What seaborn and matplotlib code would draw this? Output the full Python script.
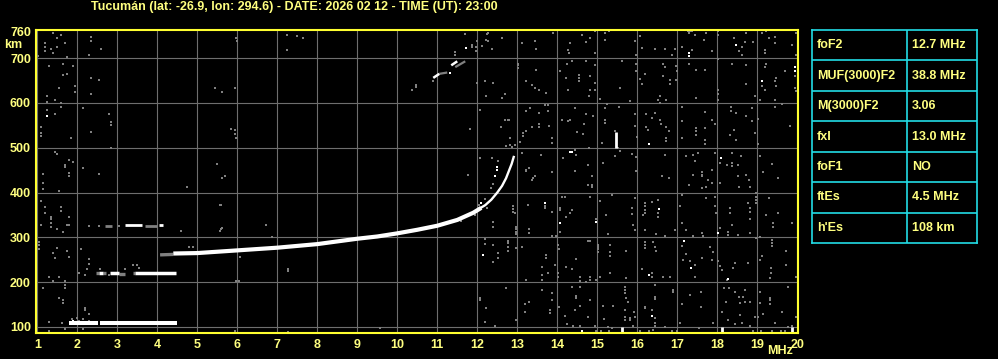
import matplotlib
matplotlib.use("Agg")
import matplotlib.pyplot as plt
import pandas as pd
import seaborn as sns

# ---------------- data ----------------
TITLE = "Tucumán (lat: -26.9, lon: 294.6) - DATE: 2026 02 12 - TIME (UT): 23:00"
freq_ticks = list(range(1, 21))
grid_heights = [100, 200, 300, 400, 500, 600, 700]
height_ticks = [100, 200, 300, 400, 500, 600, 700, 760]

table_labels = ["foF2", "MUF(3000)F2", "M(3000)F2", "fxI", "foF1", "ftEs", "h'Es"]
table_values = ["12.7 MHz", "38.8 MHz", "3.06", "13.0 MHz", "NO", "4.5 MHz", "108 km"]

# F2 trace (white): lower, thick part and upper, thin cusp
f2_freq = [4.40, 5.0, 5.5, 6.0, 6.5, 7.0, 7.5, 8.0, 8.5, 9.0, 9.5, 10.0, 10.5, 11.0, 11.5,
           11.9, 12.1]
f2_height = [264, 265, 268, 271, 274, 277, 281, 285, 291, 297, 302, 309, 317, 326, 339,
             355, 366]
cusp_freq = [12.05, 12.2, 12.35, 12.5, 12.62, 12.72, 12.79, 12.86, 12.92]
cusp_height = [364, 372, 384, 400, 415, 432, 448, 464, 482]

# sporadic-E echoes: (segment, freq, height)
es1_segments = [("a", 1.78, 110), ("a", 2.52, 110), ("b", 2.57, 110), ("b", 4.50, 110)]
es2_white = [("a", 2.53, 220), ("a", 2.65, 220), ("b", 2.82, 220), ("b", 3.05, 220),
             ("c", 3.44, 220), ("c", 4.47, 220)]
es2_gray = [("a", 2.47, 221), ("a", 2.53, 221), ("b", 2.65, 220), ("b", 2.72, 220),
            ("c", 3.05, 219), ("c", 3.19, 219), ("d", 3.38, 221), ("d", 3.44, 221),
            ("e", 4.07, 261), ("e", 4.40, 262)]
es3_white = [("a", 3.19, 327), ("a", 3.61, 327), ("b", 4.05, 327), ("b", 4.15, 327)]
es3_gray = [("a", 2.69, 326), ("a", 2.86, 326), ("b", 3.69, 326), ("b", 3.98, 326)]

# second hop F trace
hop2_white = [("a", 10.90, 656), ("a", 11.05, 665), ("b", 11.35, 684), ("b", 11.50, 693)]
hop2_gray = [("a", 11.45, 680), ("a", 11.70, 693), ("b", 11.05, 665), ("b", 11.25, 668)]

# short vertical bright echoes (freq, bottom, top)
bar_freq = [15.46, 15.63, 18.13, 19.88]
bar_bottom = [500, 87, 87, 87]
bar_top = [536, 100, 100, 100]

# isolated bright echoes
bright_dots = [(12.44, 436), (12.49, 450), (12.49, 457), (11.32, 666), (11.72, 722),
               (14.32, 491), (14.38, 491), (17.29, 711), (17.29, 705), (18.48, 730),
               (19.13, 648), (19.94, 680), (19.94, 671), (16.29, 508), (18.09, 477),
               (13.69, 376), (14.08, 331), (14.98, 335), (12.15, 261), (14.63, 90),
               (16.54, 363), (18.03, 310), (17.18, 292), (17.34, 231), (16.29, 217),
               (18.28, 207), (16.38, 124), (1.25, 572), (1.89, 114), (11.70, 345),
               (11.85, 352), (12.10, 376)]

# gray noise echoes
gray_dots = [
    # 1-6 MHz upper
    (1.38, 756), (1.59, 752), (1.48, 744), (1.69, 734), (1.34, 721), (1.38, 712), (1.49, 725),
    (1.19, 733), (1.19, 724), (1.19, 716), (1.01, 704), (1.74, 703), (2.34, 747), (2.34, 738),
    (2.59, 720), (2.28, 708), (1.30, 683), (1.63, 688), (1.88, 683), (1.63, 663), (1.74, 665),
    (2.34, 656), (2.53, 652), (1.53, 633), (1.94, 637), (1.94, 624), (1.24, 616), (1.44, 607),
    (1.59, 600), (1.59, 592), (1.24, 602), (2.34, 619), (2.13, 589), (1.24, 585), (1.44, 576),
    (2.78, 575), (2.84, 558), (2.84, 551), (1.09, 546), (1.09, 532), (1.09, 526), (1.84, 522),
    (2.34, 535), (1.44, 491), (1.49, 486), (1.78, 473), (1.88, 468), (1.69, 462), (1.69, 456),
    (1.78, 444), (1.78, 438), (1.13, 442), (2.13, 455), (2.53, 442), (2.84, 500), (1.13, 421),
    (1.13, 408), (1.53, 404), (1.09, 382), (1.19, 368), (1.19, 355), (1.59, 368), (1.59, 360),
    (1.34, 346), (1.34, 340), (1.78, 346), (1.34, 332), (1.09, 328), (1.73, 328), (5.45, 634),
    (5.63, 625), (5.95, 634), (5.84, 541), (5.95, 531), (5.49, 464), (5.69, 438), (5.63, 433),
    (4.74, 413), (5.59, 373), (5.98, 744), (6.00, 739), (7.24, 752), (7.24, 718), (7.49, 750),
    (7.64, 744), (5.94, 540), (5.97, 522),
    # 1-6 MHz lower
    (1.18, 355), (1.33, 324), (1.48, 319), (1.63, 311), (1.78, 328), (1.08, 328), (1.03, 290),
    (1.03, 283), (1.03, 275), (1.38, 266), (1.48, 276), (1.73, 270), (1.79, 257), (1.44, 253),
    (2.09, 273), (2.28, 251), (2.30, 240), (2.23, 229), (2.04, 221), (2.19, 216), (1.30, 212),
    (1.38, 203), (1.55, 211), (1.69, 203), (1.68, 194), (1.68, 186), (1.13, 186), (1.53, 164),
    (1.63, 160), (1.63, 153), (2.19, 142), (2.19, 138), (2.28, 129), (2.00, 119), (2.13, 117),
    (1.30, 112), (1.61, 110), (1.69, 95), (2.13, 95), (1.30, 91), (1.30, 87), (4.80, 279),
    (4.90, 279), (4.59, 315), (5.57, 372), (5.63, 320), (5.57, 315), (5.97, 203), (6.05, 203),
    (5.94, 90), (6.08, 257), (2.57, 229), (3.19, 229), (3.40, 238), (3.48, 238), (3.53, 231),
    (2.78, 216), (2.28, 325), (2.55, 326), (3.03, 326), (1.86, 117), (2.05, 113), (2.30, 113),
    (5.60, 318), (6.73, 328), (6.88, 301), (7.28, 229), (7.28, 224), (7.28, 89), (9.57, 97),
    # 10-12 MHz
    (10.48, 636), (10.36, 630), (11.98, 726), (11.99, 644), (11.82, 543), (11.78, 439),
    (12.07, 477), (12.07, 584), (10.48, 641), (10.90, 650), (11.45, 706), (11.45, 713),
    (11.97, 717), (11.69, 753), (11.88, 730), (11.88, 724), (11.99, 739), (12.24, 753),
    (12.28, 738), (12.61, 744), (12.20, 385), (12.35, 410), (12.05, 372), (12.55, 405),
    (11.60, 336), (11.95, 349), (12.25, 366), (12.40, 420),
    # 12-16 MHz upper
    (12.28, 756), (12.23, 741), (12.63, 744), (12.13, 727), (12.36, 721), (13.13, 734),
    (13.44, 738), (13.48, 721), (13.90, 756), (14.28, 719), (14.33, 734), (14.30, 712),
    (14.63, 752), (14.73, 736), (14.83, 744), (14.94, 712), (14.94, 761), (15.19, 756),
    (15.19, 741), (15.30, 761), (15.94, 739), (15.98, 708), (13.03, 686), (13.48, 674),
    (14.07, 671), (14.23, 656), (14.25, 688), (14.38, 693), (14.54, 663), (14.54, 656),
    (14.54, 649), (14.73, 693), (14.83, 660), (14.94, 684), (14.94, 645), (15.61, 693),
    (15.98, 686), (15.98, 671), (12.19, 648), (12.40, 645), (12.23, 615), (12.69, 620),
    (12.63, 611), (13.23, 648), (13.38, 641), (13.44, 634), (13.55, 628), (13.73, 622),
    (14.28, 628), (14.82, 628), (14.94, 630), (14.79, 615), (15.58, 634), (15.08, 609),
    (15.83, 605), (12.07, 585), (12.69, 563), (12.80, 563), (12.59, 546), (13.23, 583),
    (13.32, 589), (13.69, 595), (13.78, 595), (13.55, 578), (13.78, 581), (13.55, 553),
    (13.36, 546), (13.23, 537), (13.15, 527), (13.55, 546), (13.80, 548), (14.13, 563),
    (14.28, 559), (14.33, 563), (14.44, 588), (14.73, 575), (14.90, 570), (14.67, 552),
    (14.50, 535), (14.65, 531), (15.19, 589), (15.25, 598), (15.55, 590), (15.19, 555),
    (15.19, 563), (15.94, 575), (15.94, 548), (16.00, 523), (12.83, 522), (12.73, 503),
    (12.83, 507), (12.94, 507), (13.07, 514), (13.86, 522), (13.88, 511), (13.13, 488),
    (13.59, 485), (13.22, 449), (13.30, 455), (13.44, 436), (13.36, 427), (13.88, 447),
    (14.15, 477), (14.44, 496), (14.48, 485), (14.44, 449), (14.80, 500), (14.78, 461),
    (14.88, 436), (15.15, 466), (15.13, 510), (15.57, 493), (15.44, 481), (15.88, 486),
    (15.97, 479), (15.98, 449), (12.36, 477), (12.53, 470), (15.52, 500), (15.44, 537),
    # 12-16 MHz lower
    (12.90, 369), (12.90, 363), (12.90, 357), (12.94, 355), (13.28, 372), (13.69, 369),
    (13.69, 365), (13.88, 357), (14.08, 365), (14.08, 361), (14.11, 391), (14.19, 391),
    (14.32, 355), (14.38, 361), (14.22, 346), (14.78, 417), (14.88, 417), (14.88, 413),
    (14.82, 391), (14.98, 342), (15.07, 382), (15.23, 350), (15.38, 395), (15.86, 365),
    (15.86, 352), (15.94, 387), (15.90, 328), (15.94, 316), (15.28, 308), (14.82, 293),
    (13.98, 303), (14.07, 313), (13.88, 302), (12.40, 335), (12.40, 324), (12.97, 324),
    (12.97, 318), (12.97, 313), (12.97, 308), (13.30, 318), (13.30, 310), (12.19, 296),
    (12.40, 283), (12.53, 266), (12.53, 253), (12.40, 244), (12.78, 292), (12.78, 287),
    (12.78, 279), (13.13, 279), (12.97, 276), (13.73, 261), (13.73, 255), (14.03, 283),
    (14.05, 273), (14.48, 251), (14.23, 233), (14.38, 229), (13.63, 233), (13.78, 221),
    (13.63, 216), (13.63, 205), (13.23, 206), (13.94, 238), (14.03, 221), (14.03, 212),
    (14.78, 293), (15.03, 279), (15.03, 273), (15.03, 268), (15.03, 283), (15.33, 283),
    (15.33, 268), (15.33, 258), (15.33, 220), (15.73, 270), (15.73, 209), (14.58, 212),
    (14.58, 203), (14.58, 190), (14.83, 212), (14.83, 205), (14.72, 201), (14.36, 190),
    (14.48, 169), (14.48, 164), (14.57, 147), (14.82, 160), (14.98, 205), (15.07, 212),
    (13.63, 183), (13.86, 175), (13.88, 160), (13.83, 138), (13.83, 132), (13.19, 151),
    (13.30, 156), (13.19, 134), (12.73, 186), (12.22, 142), (12.19, 112), (12.44, 102),
    (12.97, 116), (14.05, 145), (14.19, 124), (14.25, 107), (14.44, 138), (14.40, 102),
    (14.57, 102), (14.78, 123), (14.94, 102), (14.98, 92), (15.15, 147), (15.40, 147),
    (15.17, 117), (15.28, 101), (15.38, 97), (15.69, 190), (15.69, 183), (15.69, 175),
    (15.73, 164), (15.78, 156), (15.69, 138), (15.69, 123), (15.69, 116), (15.82, 119),
    (15.82, 116), (15.90, 102), (15.94, 123), (15.92, 134), (12.07, 164), (12.07, 160),
    (12.19, 285), (12.78, 270), (13.27, 372), (13.40, 433), (13.23, 450), (12.86, 502),
    (12.82, 521), (13.15, 532), (12.78, 562), (13.03, 685), (13.03, 679),
    # 16-20 MHz upper
    (16.07, 749), (16.13, 723), (16.44, 721), (16.69, 721), (16.88, 706), (16.94, 721),
    (17.13, 725), (17.28, 760), (17.33, 760), (17.38, 760), (17.30, 756), (17.44, 752),
    (17.38, 719), (17.68, 741), (17.73, 756), (17.88, 717), (18.03, 760), (18.03, 752),
    (18.43, 745), (18.55, 717), (18.63, 724), (18.69, 736), (18.90, 736), (18.73, 756),
    (18.61, 708), (19.13, 756), (19.23, 760), (19.30, 744), (19.44, 747), (19.44, 734),
    (19.19, 719), (19.19, 712), (19.88, 730), (19.97, 756), (19.98, 708), (16.65, 687),
    (16.69, 680), (16.98, 682), (17.00, 672), (17.30, 687), (17.48, 674), (17.69, 674),
    (16.19, 665), (16.07, 654), (16.13, 642), (16.65, 660), (16.83, 652), (16.83, 642),
    (16.97, 652), (18.03, 699), (18.38, 687), (18.73, 684), (18.73, 642), (18.94, 615),
    (18.03, 630), (18.03, 619), (18.03, 607), (17.48, 611), (19.23, 687), (19.19, 680),
    (19.47, 656), (19.44, 648), (19.48, 637), (19.19, 630), (19.13, 639), (19.69, 671),
    (19.94, 660), (19.94, 634), (19.98, 626), (19.44, 607), (19.08, 607), (16.58, 615),
    (16.53, 607), (16.73, 607), (16.58, 600), (16.23, 575), (16.38, 566), (16.57, 563),
    (16.59, 552), (16.73, 546), (16.23, 546), (16.28, 540), (16.44, 578), (16.80, 537),
    (16.73, 522), (16.73, 516), (17.13, 592), (17.13, 559), (17.13, 522), (17.48, 544),
    (17.48, 537), (17.48, 529), (17.69, 580), (17.69, 544), (17.69, 518), (17.69, 508),
    (17.88, 563), (17.94, 552), (18.34, 592), (18.34, 583), (18.48, 578), (18.73, 570),
    (18.88, 589), (18.88, 559), (19.03, 565), (18.94, 533), (18.42, 540), (18.33, 529),
    (18.48, 518), (19.03, 508), (19.83, 548), (19.63, 598), (19.44, 592), (16.69, 484),
    (16.63, 436), (16.80, 433), (17.23, 481), (17.40, 485), (17.44, 470), (17.53, 488),
    (17.40, 440), (17.63, 447), (17.63, 440), (17.63, 436), (17.88, 451), (17.94, 488),
    (17.78, 429), (18.07, 466), (18.25, 461), (18.38, 466), (18.38, 460), (18.38, 488),
    (18.53, 462), (18.59, 481), (18.53, 436), (18.72, 440), (18.80, 429), (19.08, 481),
    (19.15, 447), (19.38, 464), (19.53, 433),
    # 16-20 MHz lower
    (17.30, 417), (17.61, 410), (17.73, 413), (17.86, 421), (18.08, 422), (18.54, 413),
    (18.82, 413), (16.19, 376), (16.19, 369), (16.19, 361), (16.19, 354), (16.36, 378),
    (16.53, 384), (16.53, 354), (16.53, 346), (16.15, 350), (17.08, 369), (17.11, 395),
    (17.73, 387), (17.94, 391), (17.94, 369), (18.36, 328), (18.32, 365), (18.32, 354),
    (17.98, 355), (18.78, 376), (18.98, 398), (18.98, 391), (18.98, 384), (18.98, 376),
    (18.82, 365), (18.82, 357), (18.82, 342), (18.82, 310), (19.30, 387), (19.23, 350),
    (19.53, 355), (19.40, 331), (19.40, 324), (19.86, 333), (16.19, 316), (16.48, 308),
    (16.69, 302), (16.94, 316), (17.11, 331), (17.23, 316), (17.40, 302), (17.61, 310),
    (17.65, 302), (18.07, 320), (18.28, 313), (18.28, 305), (18.53, 305), (18.98, 298),
    (19.08, 300), (19.36, 294), (19.36, 287), (19.36, 281), (16.19, 290), (16.19, 283),
    (16.19, 276), (16.40, 290), (16.48, 270), (16.44, 279), (17.13, 281), (17.23, 263),
    (17.15, 250), (17.32, 248), (17.44, 238), (17.63, 253), (17.82, 279), (17.90, 268),
    (17.88, 250), (18.03, 248), (18.07, 236), (18.11, 227), (18.40, 231), (18.44, 242),
    (18.78, 242), (19.07, 250), (19.13, 258), (19.34, 231), (19.34, 221), (19.33, 209),
    (19.73, 270), (19.73, 238), (19.98, 212), (16.11, 229), (16.36, 212), (16.36, 221),
    (16.65, 212), (16.82, 212), (16.44, 194), (16.44, 168), (16.44, 162), (16.90, 183),
    (16.90, 177), (17.13, 151), (17.32, 171), (17.59, 177), (17.59, 144), (17.44, 211),
    (18.18, 186), (18.30, 186), (18.44, 177), (18.55, 168), (18.65, 166), (18.69, 156),
    (18.57, 154), (18.23, 156), (18.25, 205), (18.69, 183), (18.82, 156), (19.07, 177),
    (19.07, 153), (19.33, 164), (19.33, 160), (19.33, 151), (19.63, 134), (19.78, 190),
    (16.19, 145), (16.19, 142), (16.36, 138), (16.44, 119), (16.44, 108), (16.44, 102),
    (16.40, 93), (16.69, 101), (16.86, 92), (17.07, 110), (17.55, 97), (17.90, 108),
    (18.11, 134), (18.28, 116), (18.44, 107), (18.57, 127), (18.61, 110), (18.82, 102),
    (18.94, 122), (19.03, 122), (19.15, 129), (19.44, 108), (19.78, 101), (19.88, 102),
    (19.98, 123), (19.69, 90), (19.36, 90), (16.07, 90), (16.30, 90), (17.00, 91),
    (18.90, 90), (19.10, 91), (19.60, 91), (15.10, 90), (15.30, 91),
]

# ---------------- styling constants ----------------
TXT = "#ffff80"
FRAME = "#ffff30"
CYAN = "#22dde6"
GRID = "#6e6e6e"
NOISE = "#808080"
FONT = "Liberation Sans"

W, H = 998, 359
fig = plt.figure(figsize=(W / 100, H / 100), dpi=100, facecolor="black")
sns.set_style("dark")
plt.rcParams["font.family"] = [FONT, "DejaVu Sans"]

ax = fig.add_axes([36 / W, (H - 333) / H, (798 - 36) / W, (333 - 29.5) / H])
ax.set_facecolor("black")

for f in freq_ticks:
    ax.axvline(f, color=GRID, lw=0.8, zorder=1)
for h in grid_heights:
    ax.axhline(h, color=GRID, lw=0.8, zorder=1)

# noise
gray_df = pd.DataFrame(gray_dots, columns=["freq", "height"])
sns.scatterplot(data=gray_df, x="freq", y="height", marker="s", s=4.0, color=NOISE,
                linewidth=0, ax=ax, zorder=2)


def seg_plot(rows, color, lw):
    df = pd.DataFrame(rows, columns=["seg", "freq", "height"])
    sns.lineplot(data=df, x="freq", y="height", units="seg", estimator=None, sort=False,
                 color=color, lw=lw, ax=ax, zorder=3, solid_capstyle="butt")


seg_plot(es2_gray, NOISE, 2.4)
seg_plot(es3_gray, NOISE, 2.0)
seg_plot(hop2_gray, NOISE, 1.6)
seg_plot(es1_segments, "white", 2.9)
seg_plot(es2_white, "white", 2.5)
seg_plot(es3_white, "white", 2.0)
seg_plot(hop2_white, "white", 1.8)

f2_df = pd.DataFrame({"freq": f2_freq, "height": f2_height})
sns.lineplot(data=f2_df, x="freq", y="height", sort=False, color="white", lw=3.0,
             ax=ax, zorder=4, solid_capstyle="butt")
cusp_df = pd.DataFrame({"freq": cusp_freq, "height": cusp_height})
sns.lineplot(data=cusp_df, x="freq", y="height", sort=False, color="white", lw=1.7,
             ax=ax, zorder=4, solid_capstyle="butt")

bars_rows = []
for i, (f, b, t) in enumerate(zip(bar_freq, bar_bottom, bar_top)):
    bars_rows += [(i, f, b), (i, f, t)]
seg_plot(bars_rows, "white", 2.0)

bright_df = pd.DataFrame(bright_dots, columns=["freq", "height"])
sns.scatterplot(data=bright_df, x="freq", y="height", marker="s", s=4.0, color="white",
                linewidth=0, ax=ax, zorder=5)

ax.set_xlim(0.967, 20.02)
ax.set_ylim(86.6, 764)
ax.set_xticks(freq_ticks)
ax.set_yticks(height_ticks)
ax.set_xticklabels([str(v) for v in freq_ticks])
ax.set_yticklabels([str(v) for v in height_ticks])
ax.tick_params(length=0, colors=TXT, labelsize=9)
ax.tick_params(axis="y", pad=3.6)
ax.tick_params(axis="x", pad=4.5)
for lab in ax.get_xticklabels() + ax.get_yticklabels():
    lab.set_fontweight("bold")
    lab.set_color(TXT)
ax.set_xlabel("")
ax.set_ylabel("")
ax.grid(False)
for sp in ax.spines.values():
    sp.set_visible(True)
    sp.set_color(FRAME)
    sp.set_linewidth(1.5)
    sp.set_zorder(10)

fig.text(294.5 / W, 1 - 7 / H, TITLE, color=TXT, fontsize=9, fontweight="bold",
         ha="center", va="center")
fig.text(13.5 / W, 1 - 45.5 / H, "km", color=TXT, fontsize=9, fontweight="bold",
         ha="center", va="center")
fig.text(780 / W, 1 - 351.5 / H, "MHz", color=TXT, fontsize=9, fontweight="bold",
         ha="center", va="center")

# parameter table
tx = fig.add_axes([812 / W, (H - 243) / H, 165 / W, 213 / H])
tx.set_facecolor("black")
tx.set_xlim(0, 165)
tx.set_ylim(len(table_labels), 0)
tx.set_xticks([])
tx.set_yticks([])
for sp in tx.spines.values():
    sp.set_color(CYAN)
    sp.set_linewidth(1.2)
for i in range(1, len(table_labels)):
    tx.axhline(i, color=CYAN, lw=1.2)
tx.axvline(95, color=CYAN, lw=1.2)
for i, (lab, val) in enumerate(zip(table_labels, table_values)):
    tx.text(5, i + 0.5, lab, color=TXT, fontsize=9, fontweight="bold", va="center", ha="left")
    tx.text(100, i + 0.5, val, color=TXT, fontsize=9, fontweight="bold", va="center", ha="left")

fig.savefig("out.png", dpi=100, facecolor="black")
